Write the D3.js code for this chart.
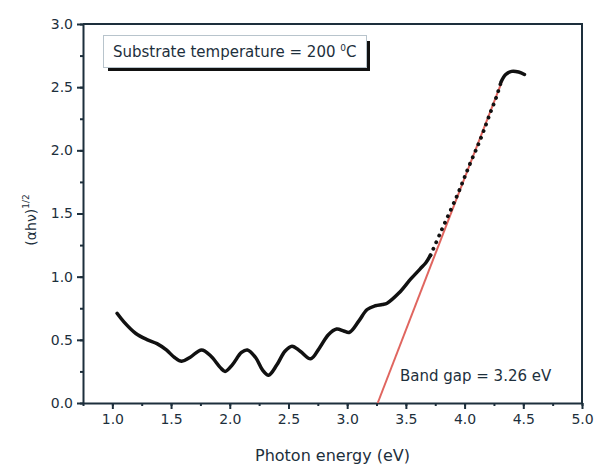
<!DOCTYPE html>
<html>
<head>
<meta charset="utf-8">
<script src="https://cdn.jsdelivr.net/npm/d3@7"></script>
<style>
  body { margin: 0; background: #fff; }
  svg { display: block; font-family: "DejaVu Sans", sans-serif; }
</style>
</head>
<body>
<div id="chart"></div>
<script>
// Curve: photon energy (eV) and (αhν)^1/2
const energy = [1.04, 1.10, 1.20, 1.30, 1.38, 1.46, 1.53, 1.59, 1.66, 1.76, 1.84, 1.92, 1.96, 2.02, 2.10, 2.15,
  2.22, 2.28, 2.33, 2.40, 2.47, 2.53, 2.60, 2.69, 2.76, 2.84, 2.91, 2.97, 3.02, 3.10, 3.17, 3.24, 3.30, 3.34,
  3.44, 3.54, 3.62, 3.67, 3.71];
const absorb = [0.71, 0.64, 0.55, 0.50, 0.47, 0.42, 0.36, 0.33, 0.36, 0.42, 0.37, 0.28, 0.25, 0.30, 0.40, 0.42,
  0.36, 0.26, 0.22, 0.30, 0.41, 0.45, 0.41, 0.35, 0.43, 0.54, 0.585, 0.57, 0.56, 0.65, 0.74, 0.77, 0.78, 0.79,
  0.87, 0.98, 1.06, 1.11, 1.17];
// steep part, drawn dotted in the picture
const energySteep = [3.71, 3.80, 3.94, 4.04, 4.14, 4.22, 4.27, 4.31];
const absorbSteep = [1.17, 1.36, 1.65, 1.88, 2.10, 2.30, 2.42, 2.54];
// rounded top
const energyTop = [4.31, 4.35, 4.40, 4.46, 4.51];
const absorbTop = [2.54, 2.60, 2.625, 2.62, 2.60];

// linear fit for the band gap
const fitX = [3.26, 4.32];
const fitY = [0, 2.55];

const xTicks = [1.0, 1.5, 2.0, 2.5, 3.0, 3.5, 4.0, 4.5, 5.0];
const yTicks = [0.0, 0.5, 1.0, 1.5, 2.0, 2.5, 3.0];

const width = 594;
const height = 466;
const margin = { top: 24, right: 12, bottom: 63, left: 83 };
const ink = "#1d2f3c";

const svg = d3.select("#chart").append("svg")
  .attr("width", width)
  .attr("height", height);

const x = d3.scaleLinear().domain([0.75, 5.0]).range([margin.left, width - margin.right]);
const y = d3.scaleLinear().domain([0, 3.0]).range([height - margin.bottom, margin.top]);

const fmt = d3.format(".1f");

// minor ticks
svg.append("g")
  .attr("transform", `translate(0,${y(0)})`)
  .call(d3.axisBottom(x).tickValues(d3.range(0.75, 5.01, 0.25)).tickSize(3).tickFormat(""))
  .call(g => g.select(".domain").remove());
svg.append("g")
  .attr("transform", `translate(${x(0.75)},0)`)
  .call(d3.axisLeft(y).tickValues(d3.range(0, 3.01, 0.25)).tickSize(3).tickFormat(""))
  .call(g => g.select(".domain").remove());

// major axes
const xAxis = svg.append("g")
  .attr("transform", `translate(0,${y(0)})`)
  .call(d3.axisBottom(x).tickValues(xTicks).tickFormat(fmt).tickSize(6).tickSizeOuter(0).tickPadding(5));
const yAxis = svg.append("g")
  .attr("transform", `translate(${x(0.75)},0)`)
  .call(d3.axisLeft(y).tickValues(yTicks).tickFormat(fmt).tickSize(6).tickSizeOuter(0).tickPadding(4));

[xAxis, yAxis].forEach(g => {
  g.select(".domain").attr("stroke", ink).attr("stroke-width", 2);
  g.selectAll("text").attr("fill", ink).attr("font-size", 14).attr("font-family", "DejaVu Sans");
});
svg.selectAll("g line").attr("stroke", ink).attr("stroke-width", 2);

// top and right frame
svg.append("path")
  .attr("d", `M${x(0.75)},${y(3)}H${x(5)}V${y(0)}`)
  .attr("fill", "none")
  .attr("stroke", ink)
  .attr("stroke-width", 2);

// fit line
svg.append("line")
  .attr("x1", x(fitX[0])).attr("y1", y(fitY[0]))
  .attr("x2", x(fitX[1])).attr("y2", y(fitY[1]))
  .attr("stroke", "#e0655f")
  .attr("stroke-width", 2);

const line = d3.line().x(d => x(d[0])).y(d => y(d[1])).curve(d3.curveCatmullRom);

svg.append("path")
  .datum(d3.zip(energy, absorb))
  .attr("d", line)
  .attr("fill", "none")
  .attr("stroke", "#111")
  .attr("stroke-width", 3.5)
  .attr("stroke-linecap", "round");

svg.append("path")
  .datum(d3.zip(energySteep, absorbSteep))
  .attr("d", line)
  .attr("fill", "none")
  .attr("stroke", "#111")
  .attr("stroke-width", 3.8)
  .attr("stroke-linecap", "round")
  .attr("stroke-dasharray", "0.1,7");

svg.append("path")
  .datum(d3.zip(energyTop, absorbTop))
  .attr("d", line)
  .attr("fill", "none")
  .attr("stroke", "#111")
  .attr("stroke-width", 3.5)
  .attr("stroke-linecap", "round");

// legend box with shadow
svg.append("path")
  .attr("d", "M108,69.5H368.5V41")
  .attr("fill", "none")
  .attr("stroke", "#111")
  .attr("stroke-width", 3);
svg.append("rect")
  .attr("x", 103.5).attr("y", 35.5)
  .attr("width", 263).attr("height", 32)
  .attr("fill", "#fff")
  .attr("stroke", "#b8c4cc")
  .attr("stroke-width", 1);

const legend = svg.append("text")
  .attr("x", 113).attr("y", 57)
  .attr("font-size", 15)
  .attr("fill", ink);
legend.append("tspan").text("Substrate temperature = 200 ");
legend.append("tspan").attr("font-size", 9).attr("dy", -6).text("0");
legend.append("tspan").attr("dy", 6).text("C");

svg.append("text")
  .attr("x", 400).attr("y", 381)
  .attr("font-size", 15)
  .attr("fill", ink)
  .text("Band gap = 3.26 eV");

// axis titles
svg.append("text")
  .attr("x", (x(0.75) + x(5)) / 2)
  .attr("y", 461)
  .attr("text-anchor", "middle")
  .attr("font-size", 16)
  .attr("fill", ink)
  .text("Photon energy (eV)");

const yl = svg.append("text")
  .attr("transform", "translate(36,220) rotate(-90)")
  .attr("text-anchor", "middle")
  .attr("font-size", 14)
  .attr("fill", ink);
yl.append("tspan").text("(αhν)");
yl.append("tspan").attr("font-size", 9).attr("dy", -7).text("1/2");
</script>
</body>
</html>
